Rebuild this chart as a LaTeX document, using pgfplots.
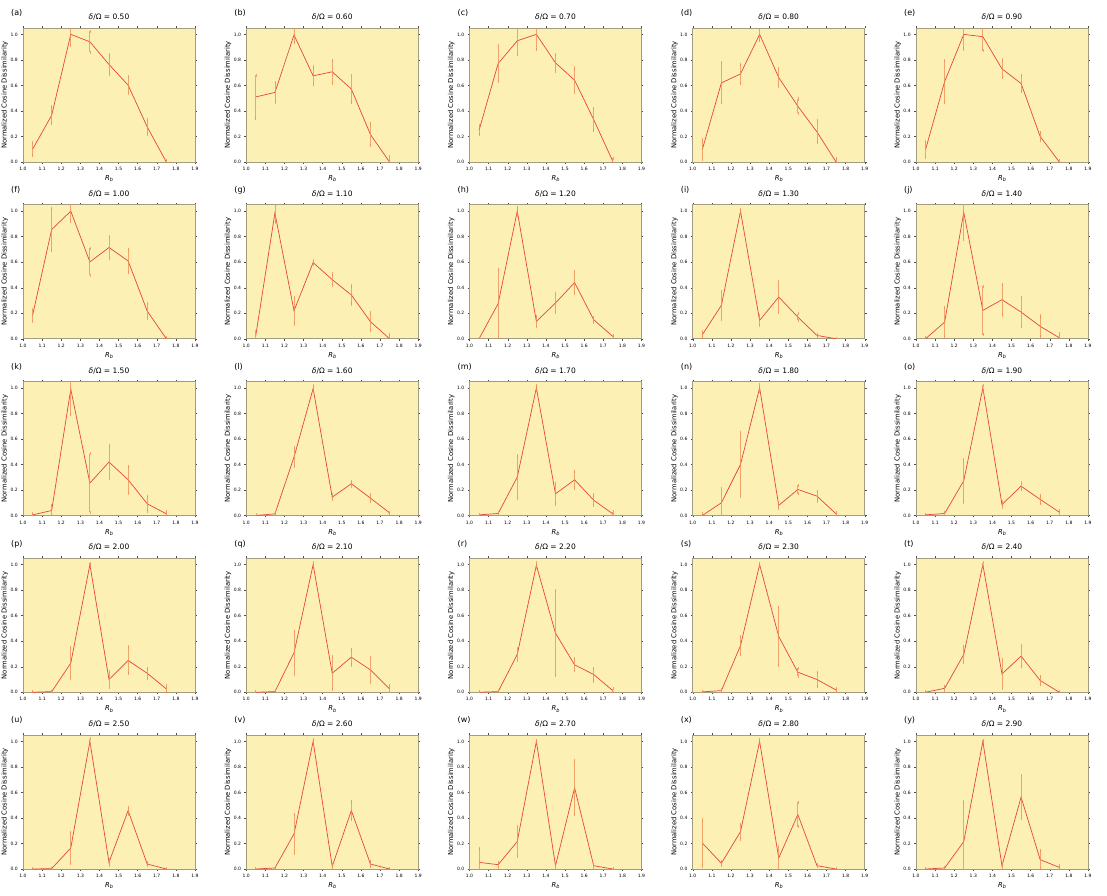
\documentclass[border=0pt]{standalone}
\usepackage{fontspec}
\setmainfont{DejaVu Sans}
\usepackage{pgfplots}
\pgfplotsset{compat=1.18}
\usepgfplotslibrary{groupplots}
\usetikzlibrary{calc}

\definecolor{bgyel}{HTML}{FCF0B5}
\definecolor{framec}{HTML}{A49C80}
\definecolor{linered}{HTML}{E8453C}
\definecolor{errorg}{HTML}{EC8C52}

\pgfplotsset{
  panel/.style={
    scale only axis, width=172pt, height=134pt,
    xmin=1.0, xmax=1.9, ymin=0, ymax=1.05,
    xtick={1.0,1.1,1.2,1.3,1.4,1.5,1.6,1.7,1.8,1.9},
    ytick={0,0.2,0.4,0.6,0.8,1.0},
    axis background/.style={fill=bgyel},
    axis line style={draw=framec, line width=0.6pt},
    tick align=outside, major tick length=1.8pt,
    tick style={draw=black!70, line width=0.4pt},
    tick label style={font=\fontsize{4.5}{5}\selectfont, /pgf/number format/assume math mode=true},
    xticklabel style={/pgf/number format/.cd, fixed, fixed zerofill, precision=1},
    yticklabel style={/pgf/number format/.cd, fixed, fixed zerofill, precision=1},
    xlabel={{\itshape R}\raisebox{-0.35ex}{\fontsize{5}{6}\selectfont\itshape b}},
    ylabel={Normalized Cosine Dissimilarity},
    label style={font=\fontsize{6.8}{8}\selectfont},
    xlabel style={yshift=2pt},
    ylabel style={yshift=-4.5pt},
    title style={font=\fontsize{7.5}{9}\selectfont, inner sep=1.5pt},
  },
  panel label/.style={extra description/.code={
    \node[anchor=base west, font=\fontsize{8}{9}\selectfont, inner sep=0pt] at (rel axis cs:-0.07,1.09) {(#1)};}},
  curve/.style={draw=linered, line width=0.7pt, mark=none,
    error bars/.cd, y dir=both, y explicit,
    error bar style={draw=errorg, line width=0.8pt, opacity=0.75},
    error mark options={draw=errorg, mark size=1.6pt, line width=0.6pt, opacity=0.75}},
}

\newcommand{\pnl}[3]{%
  \nextgroupplot[title={{\itshape δ}/Ω = #2}, panel label={#1}]
  \addplot[curve] table[row sep=\\, x=x, y=y, y error=e] {x y e\\ #3};
}

\begin{document}
\begin{tikzpicture}
\begin{groupplot}[group style={group name=G, group size=5 by 5,
    horizontal sep=51.25pt, vertical sep=42.75pt}, panel]
\pnl{a}{0.50}{1.05 0.10 0.05\\ 1.15 0.366 0.065\\ 1.25 1.0 0.09\\ 1.35 0.942 0.083\\ 1.45 0.764 0.075\\ 1.55 0.602 0.065\\ 1.65 0.275 0.055\\ 1.75 0.0 0.01\\}
\pnl{b}{0.60}{1.05 0.51 0.17\\ 1.15 0.545 0.075\\ 1.25 0.995 0.06\\ 1.35 0.675 0.07\\ 1.45 0.707 0.09\\ 1.55 0.571 0.105\\ 1.65 0.215 0.088\\ 1.75 0.0 0.04\\}
\pnl{c}{0.70}{1.05 0.249 0.035\\ 1.15 0.772 0.14\\ 1.25 0.95 0.11\\ 1.35 1.0 0.12\\ 1.45 0.777 0.065\\ 1.55 0.641 0.095\\ 1.65 0.332 0.088\\ 1.75 0.005 0.025\\}
\pnl{d}{0.80}{1.05 0.097 0.075\\ 1.15 0.62 0.155\\ 1.25 0.69 0.075\\ 1.35 1.0 0.05\\ 1.45 0.662 0.068\\ 1.55 0.437 0.056\\ 1.65 0.236 0.085\\ 1.75 0.0 0.03\\}
\pnl{e}{0.90}{1.05 0.097 0.06\\ 1.15 0.63 0.166\\ 1.25 1.0 0.115\\ 1.35 0.982 0.11\\ 1.45 0.73 0.07\\ 1.55 0.615 0.065\\ 1.65 0.2 0.033\\ 1.75 0.0 0.01\\}
\pnl{f}{1.00}{1.05 0.183 0.046\\ 1.15 0.856 0.167\\ 1.25 1.0 0.077\\ 1.35 0.602 0.106\\ 1.45 0.715 0.086\\ 1.55 0.61 0.092\\ 1.65 0.217 0.057\\ 1.75 0.0 0.01\\}
\pnl{g}{1.10}{1.05 0.026 0.03\\ 1.15 0.985 0.07\\ 1.25 0.22 0.105\\ 1.35 0.597 0.012\\ 1.45 0.463 0.045\\ 1.55 0.343 0.07\\ 1.65 0.134 0.07\\ 1.75 0.0 0.035\\}
\pnl{h}{1.20}{1.05 0.0 0.005\\ 1.15 0.275 0.27\\ 1.25 1.0 0.03\\ 1.35 0.136 0.04\\ 1.45 0.28 0.074\\ 1.55 0.44 0.085\\ 1.65 0.149 0.02\\ 1.75 0.018 0.005\\}
\pnl{i}{1.30}{1.05 0.031 0.025\\ 1.15 0.262 0.108\\ 1.25 1.0 0.015\\ 1.35 0.144 0.04\\ 1.45 0.327 0.12\\ 1.55 0.17 0.025\\ 1.65 0.026 0.01\\ 1.75 0.0 0.003\\}
\pnl{j}{1.40}{1.05 0.0 0.01\\ 1.15 0.13 0.115\\ 1.25 0.99 0.21\\ 1.35 0.222 0.19\\ 1.45 0.306 0.12\\ 1.55 0.209 0.115\\ 1.65 0.097 0.081\\ 1.75 0.008 0.03\\}
\pnl{k}{1.50}{1.05 0.005 0.01\\ 1.15 0.039 0.04\\ 1.25 0.99 0.2\\ 1.35 0.254 0.23\\ 1.45 0.419 0.126\\ 1.55 0.28 0.105\\ 1.65 0.092 0.057\\ 1.75 0.013 0.015\\}
\pnl{l}{1.60}{1.05 0.0 0.005\\ 1.15 0.013 0.01\\ 1.25 0.458 0.072\\ 1.35 0.995 0.02\\ 1.45 0.144 0.018\\ 1.55 0.249 0.02\\ 1.65 0.136 0.028\\ 1.75 0.021 0.005\\}
\pnl{m}{1.70}{1.05 0.005 0.003\\ 1.15 0.016 0.008\\ 1.25 0.301 0.165\\ 1.35 1.0 0.02\\ 1.45 0.17 0.08\\ 1.55 0.28 0.065\\ 1.65 0.12 0.04\\ 1.75 0.013 0.015\\}
\pnl{n}{1.80}{1.05 0.0 0.015\\ 1.15 0.1 0.11\\ 1.25 0.4 0.25\\ 1.35 1.0 0.025\\ 1.45 0.079 0.02\\ 1.55 0.204 0.033\\ 1.65 0.152 0.038\\ 1.75 0.013 0.01\\}
\pnl{o}{1.90}{1.05 0.005 0.003\\ 1.15 0.016 0.008\\ 1.25 0.272 0.166\\ 1.35 1.0 0.02\\ 1.45 0.086 0.02\\ 1.55 0.23 0.027\\ 1.65 0.126 0.032\\ 1.75 0.026 0.01\\}
\pnl{p}{2.00}{1.05 0.0 0.002\\ 1.15 0.005 0.003\\ 1.25 0.228 0.12\\ 1.35 1.0 0.01\\ 1.45 0.1 0.06\\ 1.55 0.249 0.105\\ 1.65 0.149 0.04\\ 1.75 0.026 0.023\\}
\pnl{q}{2.10}{1.05 0.0 0.002\\ 1.15 0.005 0.003\\ 1.25 0.309 0.168\\ 1.35 1.0 0.015\\ 1.45 0.149 0.13\\ 1.55 0.275 0.062\\ 1.65 0.175 0.096\\ 1.75 0.026 0.028\\}
\pnl{r}{2.20}{1.05 0.0 0.002\\ 1.15 0.005 0.003\\ 1.25 0.296 0.046\\ 1.35 0.995 0.02\\ 1.45 0.463 0.33\\ 1.55 0.215 0.046\\ 1.65 0.139 0.05\\ 1.75 0.013 0.015\\}
\pnl{s}{2.30}{1.05 0.003 0.002\\ 1.15 0.013 0.005\\ 1.25 0.366 0.07\\ 1.35 1.0 0.01\\ 1.45 0.437 0.23\\ 1.55 0.157 0.03\\ 1.65 0.1 0.055\\ 1.75 0.018 0.012\\}
\pnl{t}{2.40}{1.05 0.0 0.002\\ 1.15 0.031 0.015\\ 1.25 0.296 0.063\\ 1.35 1.0 0.015\\ 1.45 0.144 0.112\\ 1.55 0.283 0.082\\ 1.65 0.092 0.033\\ 1.75 0.0 0.003\\}
\pnl{u}{2.50}{1.05 0.0 0.002\\ 1.15 0.003 0.002\\ 1.25 0.165 0.122\\ 1.35 1.0 0.02\\ 1.45 0.052 0.02\\ 1.55 0.458 0.027\\ 1.65 0.039 0.012\\ 1.75 0.0 0.002\\}
\pnl{v}{2.60}{1.05 0.0 0.002\\ 1.15 0.008 0.005\\ 1.25 0.275 0.153\\ 1.35 1.0 0.015\\ 1.45 0.021 0.015\\ 1.55 0.458 0.072\\ 1.65 0.039 0.02\\ 1.75 0.0 0.002\\}
\pnl{w}{2.70}{1.05 0.052 0.11\\ 1.15 0.034 0.02\\ 1.25 0.215 0.116\\ 1.35 1.0 0.005\\ 1.45 0.026 0.01\\ 1.55 0.636 0.21\\ 1.65 0.026 0.01\\ 1.75 0.0 0.002\\}
\pnl{x}{2.80}{1.05 0.204 0.18\\ 1.15 0.045 0.015\\ 1.25 0.293 0.058\\ 1.35 1.0 0.015\\ 1.45 0.086 0.09\\ 1.55 0.427 0.095\\ 1.65 0.026 0.008\\ 1.75 0.0 0.002\\}
\pnl{y}{2.90}{1.05 0.0 0.002\\ 1.15 0.008 0.005\\ 1.25 0.215 0.31\\ 1.35 1.0 0.01\\ 1.45 0.026 0.01\\ 1.55 0.563 0.167\\ 1.65 0.073 0.075\\ 1.75 0.013 0.013\\}
\end{groupplot}
\pgfresetboundingbox
\path[use as bounding box] ($(G c1r1.north west)+(-23pt,28pt)$) rectangle ++(1107pt,-895pt);
\end{tikzpicture}
\end{document}
